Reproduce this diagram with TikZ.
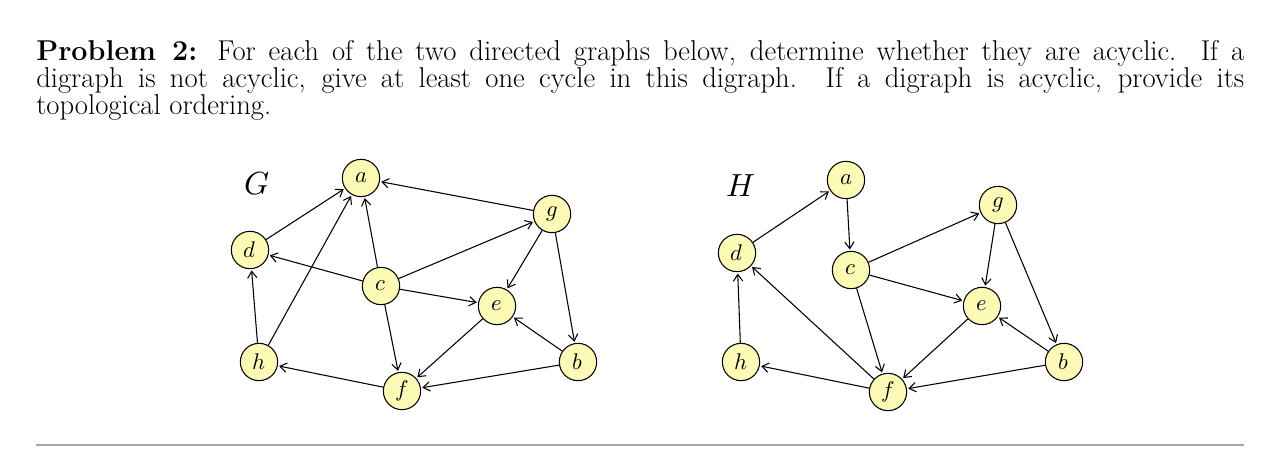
\documentclass[tikz,border=0pt]{standalone}
\usepackage{fontspec}
\usepackage{unicode-math}
\usetikzlibrary{arrows.meta}
\begin{document}
\begin{tikzpicture}[x=0.75pt,y=-0.75pt,
 vtx/.style={circle,draw,thick,fill={rgb,255:red,252;green,250;blue,180},minimum size=28pt,inner sep=0pt,font=\fontsize{17}{17}\selectfont},
 arr/.style={->,>={Straight Barb[length=5pt,width=7pt]},thick,shorten >=1pt}]
\useasboundingbox (0,0) rectangle (1280,459);
\node[anchor=north west,inner sep=0pt,text width=906pt,align=justify] (txt) at (36,40)
 {\fontsize{21.5}{26.3}\selectfont\textbf{Problem 2:} For each of the two directed graphs below, determine whether they are acyclic. If a\linebreak digraph is not acyclic, give at least one cycle in this digraph. If a digraph is acyclic, provide its\linebreak topological ordering.};
\draw[gray!70,line width=0.8pt] (36,445) coordinate (r1) -- (1244,445) coordinate (r2);
% G
\node[font=\fontsize{24}{24}\selectfont] (G) at (257,184) {$G$};
\node[vtx] (a) at (361,178) {$a$};
\node[vtx] (g) at (552,214) {$g$};
\node[vtx] (d) at (250,250) {$d$};
\node[vtx] (c) at (381,286) {$c$};
\node[vtx] (e) at (497,306) {$e$};
\node[vtx] (h) at (259,362) {$h$};
\node[vtx] (b) at (578,362) {$b$};
\node[vtx] (f) at (402,391) {$f$};
\foreach \s/\t in {g/a,d/a,h/a,c/a,c/d,c/g,c/e,c/f,g/e,g/b,h/d,e/f,b/e,b/f,f/h}
  \draw[arr] (\s) -- (\t);
% H
\node[font=\fontsize{24}{24}\selectfont] (H) at (741,186) {$H$};
\node[vtx] (a2) at (846,180) {$a$};
\node[vtx] (g2) at (998,205) {$g$};
\node[vtx] (d2) at (737,253) {$d$};
\node[vtx] (c2) at (851,270) {$c$};
\node[vtx] (e2) at (982,306) {$e$};
\node[vtx] (h2) at (741,362) {$h$};
\node[vtx] (b2) at (1064,362) {$b$};
\node[vtx] (f2) at (888,392) {$f$};
\foreach \s/\t in {d2/a2,a2/c2,c2/g2,c2/e2,c2/f2,g2/e2,g2/b2,h2/d2,f2/d2,e2/f2,b2/e2,b2/f2,f2/h2}
  \draw[arr] (\s) -- (\t);
\end{tikzpicture}
\end{document}
